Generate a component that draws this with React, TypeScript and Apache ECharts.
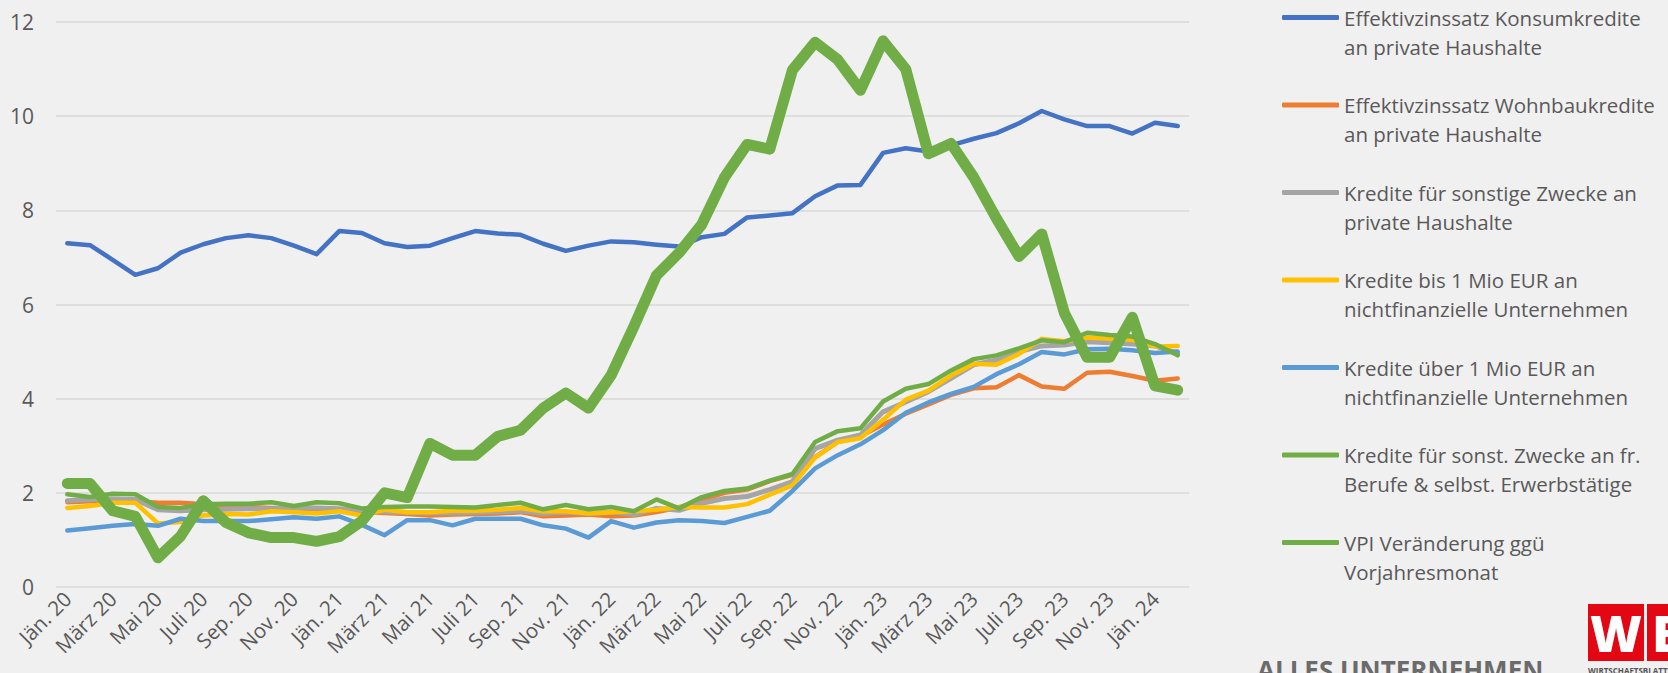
import React, { useEffect, useRef } from "react";
import * as echarts from "echarts";

const months = ["Jän.", "Feb.", "März", "Apr.", "Mai", "Juni", "Juli", "Aug.", "Sep.", "Okt.", "Nov.", "Dez."];
const years = ["20", "21", "22", "23", "24"];
const categories: string[] = [];
for (const y of years) for (const m of months) categories.push(`${m} ${y}`);
categories.length = 50;

const seriesNames = [
  "Effektivzinssatz Konsumkredite\nan private Haushalte",
  "Effektivzinssatz Wohnbaukredite\nan private Haushalte",
  "Kredite für sonstige Zwecke an\nprivate Haushalte",
  "Kredite bis 1 Mio EUR an\nnichtfinanzielle Unternehmen",
  "Kredite über 1 Mio EUR an\nnichtfinanzielle Unternehmen",
  "Kredite für sonst. Zwecke an fr.\nBerufe & selbst. Erwerbstätige",
  "VPI Veränderung ggü\nVorjahresmonat",
];

const konsum = [7.30, 7.26, 6.95, 6.63, 6.77, 7.10, 7.28, 7.41, 7.47, 7.41, 7.25, 7.07, 7.56, 7.52, 7.30, 7.22, 7.25, 7.41, 7.56, 7.51, 7.48, 7.29, 7.14, 7.25, 7.34, 7.32, 7.27, 7.23, 7.43, 7.50, 7.85, 7.89, 7.94, 8.30, 8.53, 8.54, 9.22, 9.32, 9.25, 9.38, 9.52, 9.64, 9.85, 10.11, 9.93, 9.79, 9.79, 9.63, 9.86, 9.79];
const wohnbau = [1.80, 1.82, 1.83, 1.82, 1.79, 1.79, 1.76, 1.73, 1.70, 1.68, 1.67, 1.65, 1.62, 1.60, 1.57, 1.55, 1.52, 1.54, 1.55, 1.56, 1.59, 1.50, 1.52, 1.54, 1.50, 1.52, 1.59, 1.69, 1.85, 2.00, 2.07, 2.25, 2.38, 2.76, 3.08, 3.20, 3.45, 3.68, 3.88, 4.08, 4.22, 4.24, 4.50, 4.26, 4.21, 4.55, 4.57, 4.48, 4.38, 4.43];
const sonstigePH = [1.83, 1.86, 1.87, 1.86, 1.64, 1.62, 1.64, 1.65, 1.66, 1.66, 1.68, 1.68, 1.66, 1.63, 1.60, 1.58, 1.57, 1.57, 1.58, 1.60, 1.62, 1.56, 1.59, 1.56, 1.59, 1.54, 1.67, 1.63, 1.78, 1.88, 1.92, 2.07, 2.24, 2.94, 3.12, 3.23, 3.72, 3.93, 4.15, 4.43, 4.72, 4.82, 5.00, 5.12, 5.14, 5.21, 5.19, 5.16, 5.12, 4.96];
const bis1Mio = [1.68, 1.72, 1.79, 1.79, 1.35, 1.38, 1.52, 1.55, 1.54, 1.61, 1.59, 1.56, 1.61, 1.52, 1.64, 1.59, 1.59, 1.62, 1.62, 1.64, 1.68, 1.61, 1.61, 1.56, 1.59, 1.61, 1.64, 1.70, 1.69, 1.69, 1.76, 1.96, 2.16, 2.75, 3.08, 3.16, 3.55, 3.98, 4.17, 4.49, 4.74, 4.72, 4.95, 5.27, 5.22, 5.30, 5.27, 5.25, 5.11, 5.12];
const ueber1Mio = [1.20, 1.25, 1.30, 1.34, 1.30, 1.45, 1.40, 1.40, 1.40, 1.44, 1.48, 1.45, 1.50, 1.32, 1.10, 1.42, 1.42, 1.31, 1.45, 1.45, 1.45, 1.31, 1.24, 1.05, 1.40, 1.26, 1.37, 1.42, 1.40, 1.36, 1.49, 1.62, 2.04, 2.52, 2.80, 3.03, 3.33, 3.70, 3.92, 4.10, 4.25, 4.52, 4.73, 4.99, 4.94, 5.05, 5.06, 5.03, 4.97, 5.00];
const freieBerufe = [1.97, 1.91, 1.98, 1.97, 1.70, 1.68, 1.76, 1.77, 1.77, 1.80, 1.72, 1.80, 1.78, 1.67, 1.70, 1.71, 1.71, 1.70, 1.69, 1.74, 1.79, 1.65, 1.74, 1.65, 1.70, 1.61, 1.86, 1.67, 1.91, 2.04, 2.09, 2.26, 2.40, 3.08, 3.31, 3.37, 3.94, 4.21, 4.31, 4.60, 4.84, 4.92, 5.07, 5.24, 5.20, 5.40, 5.35, 5.32, 5.16, 4.92];
const vpi = [2.2, 2.2, 1.62, 1.5, 0.62, 1.08, 1.83, 1.37, 1.15, 1.05, 1.05, 0.97, 1.07, 1.4, 2.0, 1.9, 3.05, 2.8, 2.8, 3.2, 3.33, 3.8, 4.12, 3.8, 4.5, 5.53, 6.62, 7.1, 7.7, 8.7, 9.4, 9.3, 10.98, 11.57, 11.2, 10.55, 11.6, 11.0, 9.2, 9.42, 8.7, 7.83, 7.02, 7.5, 5.82, 4.88, 4.88, 5.73, 4.27, 4.18];

const allData = [konsum, wohnbau, sonstigePH, bis1Mio, ueber1Mio, freieBerufe, vpi];
const colors = ["#4472C4", "#ED7D31", "#A5A5A5", "#FFC000", "#5B9BD5", "#70AD47", "#70AD47"];
const widths = [4.5, 4.5, 5, 4.5, 4.5, 4.5, 11];

const FONT = "'Open Sans', 'DejaVu Sans', sans-serif";

export default function App() {
  const ref = useRef<HTMLDivElement>(null);
  useEffect(() => {
    if (!ref.current) return;
    const chart = echarts.init(ref.current, undefined, { renderer: "svg" });
    chart.setOption({
      animation: false,
      backgroundColor: "#F0F0F0",
      grid: { left: 56, right: 479, top: 22, bottom: 86, containLabel: false },
      legend: {
        orient: "vertical",
        left: 1277,
        top: -31,
        itemWidth: 57,
        itemHeight: 5,
        itemGap: 0.5,
        icon: "roundRect",
        data: seriesNames,
        formatter: (name: string) => "\n" + name,
        textStyle: {
          fontFamily: FONT,
          fontSize: 20.5,
          color: "#595959",
          lineHeight: 29,
        },
      },
      xAxis: {
        type: "category",
        data: categories,
        boundaryGap: true,
        axisLine: { show: false },
        axisTick: { show: false },
        axisLabel: {
          interval: 1,
          rotate: 45,
          margin: 8,
          fontFamily: FONT,
          fontSize: 20.5,
          color: "#595959",
        },
      },
      yAxis: {
        type: "value",
        min: 0,
        max: 12,
        interval: 2,
        axisLine: { show: false },
        axisTick: { show: false },
        splitLine: { lineStyle: { color: "#D9D9D9", width: 1.5 } },
        axisLabel: { margin: 22, fontFamily: FONT, fontSize: 21, color: "#595959" },
      },
      series: allData.map((d, i) => ({
        name: seriesNames[i],
        type: "line",
        data: d,
        showSymbol: false,
        symbol: "none",
        color: colors[i],
        lineStyle: { color: colors[i], width: widths[i], cap: "round", join: "round" },
        z: 2 + i,
      })),
      graphic: [
        {
          type: "text",
          left: 1257,
          top: 657,
          style: { text: "ALLES UNTERNEHMEN", font: `bold 26px ${FONT}`, fill: "#6B6B6B" },
        },
        { type: "rect", shape: { x: 1588, y: 604, width: 56, height: 57 }, style: { fill: "#E30613" } },
        { type: "text", x: 1616, y: 633, style: { text: "W", font: `900 50px ${FONT}`, fill: "#FFFFFF", align: "center", verticalAlign: "middle" } },
        { type: "rect", shape: { x: 1647, y: 604, width: 30, height: 57 }, style: { fill: "#E30613" } },
        { type: "text", x: 1652, y: 633, style: { text: "B", font: `900 50px ${FONT}`, fill: "#FFFFFF", align: "left", verticalAlign: "middle" } },
        { type: "text", x: 1588, y: 666, style: { text: "WIRTSCHAFTSBLATT", font: `bold 8px ${FONT}`, fill: "#555555" } },
      ],
    });
    return () => chart.dispose();
  }, []);
  return (
    <div
      ref={ref}
      style={{ position: "fixed", left: 0, top: 0, width: 1668, height: 673, background: "#F0F0F0" }}
    />
  );
}
